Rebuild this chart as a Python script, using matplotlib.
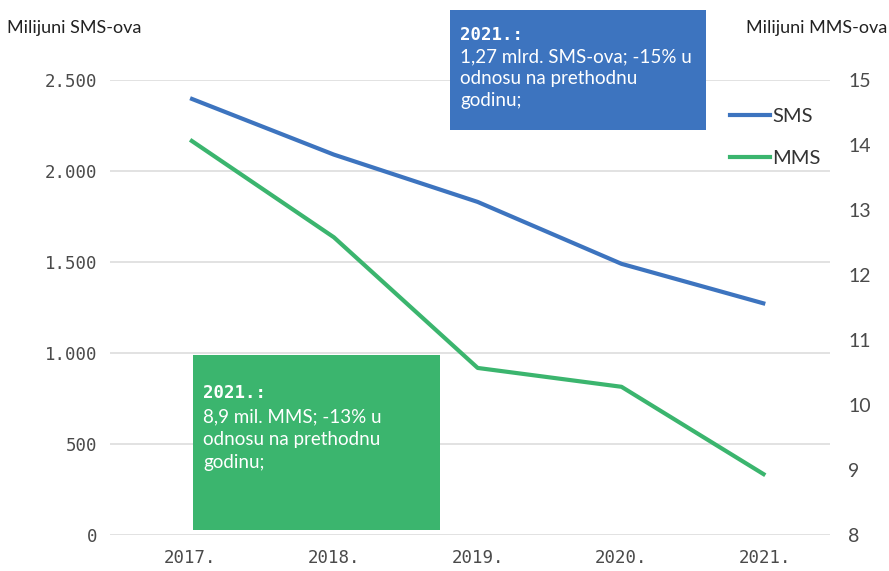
import matplotlib
matplotlib.use("Agg")
import matplotlib.pyplot as plt
from matplotlib.patches import Rectangle
from matplotlib.lines import Line2D

years = ["2017.", "2018.", "2019.", "2020.", "2021."]
sms = [2400, 2090, 1830, 1490, 1270]
mms = [14.08, 12.58, 10.57, 10.28, 8.92]
left_ticks = [0, 500, 1000, 1500, 2000, 2500]
left_labels = ["0", "500", "1.000", "1.500", "2.000", "2.500"]
right_ticks = [8, 9, 10, 11, 12, 13, 14, 15]

BLUE = "#3d74bf"
GREEN = "#3bb56e"
TICK = "#4a4a4a"
SANS = "Lato"
MONO = "DejaVu Sans Mono"

fig = plt.figure(figsize=(8.89, 5.71), dpi=100)
W, H = 889, 571
ax = fig.add_axes([110 / W, 1 - 535 / H, 720 / W, 455 / H])
ax2 = ax.twinx()

x = list(range(len(years)))
ax.set_xlim(-0.557, 4.45)
ax.set_ylim(0, 2500)
ax2.set_ylim(8, 15)

for y in left_ticks:
    ax.axhline(y, color="#dddddd", lw=1.2, zorder=0)

ax.plot(x, sms, color=BLUE, lw=3, solid_capstyle="butt", zorder=3)
ax2.plot(x, mms, color=GREEN, lw=3, solid_capstyle="butt", zorder=3)

ax.set_yticks(left_ticks)
ax.set_yticklabels(left_labels)
ax.set_xticks(x)
ax.set_xticklabels(years)
ax2.set_yticks(right_ticks)
ax2.set_yticklabels([str(t) for t in right_ticks])

for a in (ax, ax2):
    for s in a.spines.values():
        s.set_visible(False)
    a.tick_params(length=0, labelsize=12.5, labelcolor=TICK)
for lbl in ax.get_xticklabels() + ax.get_yticklabels():
    lbl.set_fontfamily(MONO)
for lbl in ax2.get_yticklabels():
    lbl.set_fontfamily(SANS)
    lbl.set_fontsize(14)
ax.tick_params(axis="y", pad=9)
ax.tick_params(axis="x", pad=10)
ax2.tick_params(axis="y", pad=13)

fig.text(7 / W, 1 - 28 / H, "Milijuni SMS-ova", fontsize=13, family=SANS,
         color="#222222", va="center")
fig.text(887 / W, 1 - 28 / H, "Milijuni MMS-ova", fontsize=13, family=SANS,
         color="#222222", va="center", ha="right")

# annotation boxes
fig.patches.append(Rectangle((193 / W, 1 - 530 / H), 247 / W, 175 / H,
                             transform=fig.transFigure, facecolor=GREEN,
                             edgecolor="none", zorder=5))
fig.patches.append(Rectangle((450 / W, 1 - 130 / H), 256 / W, 120 / H,
                             transform=fig.transFigure, facecolor=BLUE,
                             edgecolor="none", zorder=5))

fig.text(203 / W, 1 - 393 / H, "2021.:", fontsize=12.5, family=MONO,
         weight="bold", color="white", va="center", zorder=6)
fig.text(203 / W, 1 - 408 / H, "8,9 mil. MMS; -13% u\nodnosu na prethodnu\ngodinu;",
         fontsize=13.5, family=SANS, color="white", va="top",
         linespacing=1.42, zorder=6)

fig.text(460 / W, 1 - 35 / H, "2021.:", fontsize=12.5, family=MONO,
         weight="bold", color="white", va="center", zorder=6)
fig.text(460 / W, 1 - 48 / H, "1,27 mlrd. SMS-ova; -15% u\nodnosu na prethodnu\ngodinu;",
         fontsize=13.5, family=SANS, color="white", va="top",
         linespacing=1.35, zorder=6)

# legend
handles = [Line2D([], [], color=BLUE, lw=3), Line2D([], [], color=GREEN, lw=3)]
leg = fig.legend(handles, ["SMS", "MMS"], loc="upper left",
                 bbox_to_anchor=(712 / W, 1 - 90 / H), frameon=False,
                 handlelength=2.0, handletextpad=0.1,
                 labelspacing=1.25, prop={"family": SANS, "size": 14.5})
for t in leg.get_texts():
    t.set_color("#333333")

fig.savefig("out.png", dpi=100)
